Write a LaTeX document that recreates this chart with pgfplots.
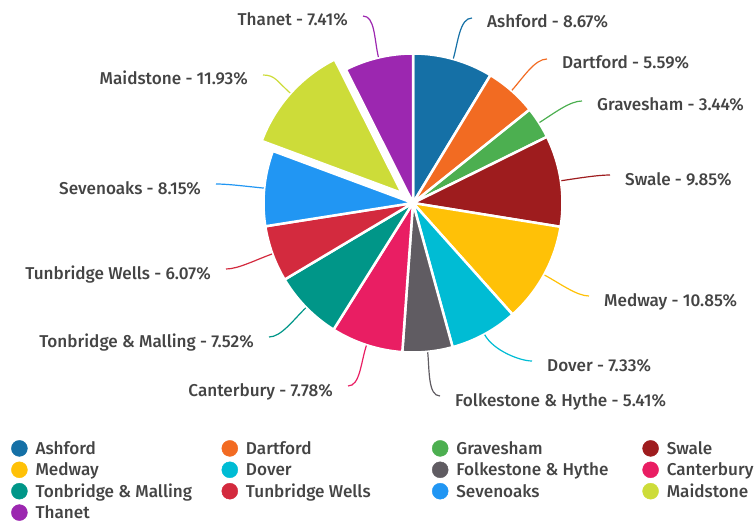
\documentclass[border=0pt]{standalone}
\usepackage{fontspec}
\setmainfont{Fira Sans}[UprightFont={* Medium}]
\usepackage{pgfplots}
\usepackage{pgfplotstable}
\pgfplotsset{compat=1.18}
\definecolor{txt}{HTML}{444444}
\definecolor{cA}{HTML}{1570A6}
\definecolor{cB}{HTML}{F26B22}
\definecolor{cC}{HTML}{4CAF50}
\definecolor{cD}{HTML}{9E1C1E}
\definecolor{cE}{HTML}{FFC107}
\definecolor{cF}{HTML}{00BCD4}
\definecolor{cG}{HTML}{605C62}
\definecolor{cH}{HTML}{E91E63}
\definecolor{cI}{HTML}{009688}
\definecolor{cJ}{HTML}{D32A3E}
\definecolor{cK}{HTML}{2196F3}
\definecolor{cL}{HTML}{CDDC39}
\definecolor{cM}{HTML}{9C27B0}
% name, share (%), colour, explode offset, leader end (x,y from top-left), label side
\pgfplotstableread[col sep=comma]{
name,pct,col,off,lx,ly,side
Ashford,8.67,cA,0,472,18,1
Dartford,5.59,cB,0,547,59,1
Gravesham,3.44,cC,0,582,101,1
Swale,9.85,cD,0,610,175,1
Medway,10.85,cE,0,589,296,1
Dover,7.33,cF,0,532,361,1
Folkestone \& Hythe,5.41,cG,0,440,396,1
Canterbury,7.78,cH,0,348,386,-1
Tonbridge \& Malling,7.52,cI,0,269,337,-1
Tunbridge Wells,6.07,cJ,0,226,269,-1
Sevenoaks,8.15,cK,0,216,184,-1
Maidstone,11.93,cL,15,263,75,-1
Thanet,7.41,cM,0,363,16,-1
}\piedata
\begin{document}
\fontsize{17.2}{20}\selectfont\color{txt}
\begin{tikzpicture}
\begin{axis}[
  x=1bp, y=1bp, xmin=0, xmax=755, ymin=0, ymax=523,
  scale only axis, hide axis, clip=false,
  at={(0,0)}, anchor=south west,
  legend columns=4,
  legend cell align=left,
  legend style={at={(axis cs:11,83)}, anchor=north west, draw=none, fill=none,
    inner sep=0pt, row sep=5bp,
    nodes={inner sep=0pt, text height=12bp, text depth=0pt},
    /tikz/every odd column/.append style={column sep=8bp},
    /tikz/every even column/.append style={column sep=6bp}},
]
\def\cum{0}
\pgfplotsforeachungrouped \i in {0,...,12}{%
  \pgfplotstablegetelem{\i}{name}\of\piedata \edef\nm{\pgfplotsretval}%
  \pgfplotstablegetelem{\i}{pct}\of\piedata \edef\p{\pgfplotsretval}%
  \pgfplotstablegetelem{\i}{col}\of\piedata \edef\c{\pgfplotsretval}%
  \pgfplotstablegetelem{\i}{off}\of\piedata \edef\off{\pgfplotsretval}%
  \pgfplotstablegetelem{\i}{lx}\of\piedata \edef\lx{\pgfplotsretval}%
  \pgfplotstablegetelem{\i}{ly}\of\piedata \edef\ly{\pgfplotsretval}%
  \pgfplotstablegetelem{\i}{side}\of\piedata \edef\sd{\pgfplotsretval}%
  \pgfmathsetmacro\aS{90-3.6*\cum}%
  \pgfmathsetmacro\aE{90-3.6*(\cum+\p)}%
  \pgfmathsetmacro\aM{(\aS+\aE)/2}%
  \pgfmathsetmacro\cum{\cum+\p}%
  \pgfmathsetmacro\cx{413+\off*cos(\aM)}%
  \pgfmathsetmacro\cy{320+\off*sin(\aM)}%
  \pgfmathsetmacro\sx{413+(150+\off)*cos(\aM)}%
  \pgfmathsetmacro\sy{320+(150+\off)*sin(\aM)}%
  \pgfmathsetmacro\ax{413+(168+\off)*cos(\aM)}%
  \pgfmathsetmacro\ay{320+(168+\off)*sin(\aM)}%
  \pgfmathsetmacro\ey{523-\ly}%
  \pgfmathsetmacro\bx{\lx-12*\sd}%
  \pgfmathsetmacro\tx{\lx+15*\sd}%
  \pgfmathsetmacro\ty{523-\ly-10}%
  \ifdim\sd pt>0pt \def\anc{base west}\else\def\anc{base east}\fi
  \edef\next{%
    \noexpand\fill[fill=\c, draw=white, line width=2.5bp, line join=round]
      (axis cs:\cx,\cy) -- ++(\aS:149.5bp) arc[start angle=\aS, end angle=\aE, radius=149.5bp] -- cycle;
    \noexpand\draw[\c, line width=1.2bp]
      (axis cs:\sx,\sy) .. controls (axis cs:\ax,\ay) and (axis cs:\bx,\ey) .. (axis cs:\lx,\ey);
    \noexpand\node[anchor=\anc, inner sep=0pt, text=txt] at (axis cs:\tx,\ty) {\nm{} - \p\noexpand\%};
  }%
  \next
}
\addlegendimage{legend image code/.code={\fill[cA] (0bp,0bp) circle (8bp);}}
\addlegendentry{\makebox[180bp][l]{Ashford}}
\addlegendimage{legend image code/.code={\fill[cB] (0bp,0bp) circle (8bp);}}
\addlegendentry{\makebox[180bp][l]{Dartford}}
\addlegendimage{legend image code/.code={\fill[cC] (0bp,0bp) circle (8bp);}}
\addlegendentry{\makebox[180bp][l]{Gravesham}}
\addlegendimage{legend image code/.code={\fill[cD] (0bp,0bp) circle (8bp);}}
\addlegendentry{Swale}
\addlegendimage{legend image code/.code={\fill[cE] (0bp,0bp) circle (8bp);}}
\addlegendentry{\makebox[180bp][l]{Medway}}
\addlegendimage{legend image code/.code={\fill[cF] (0bp,0bp) circle (8bp);}}
\addlegendentry{\makebox[180bp][l]{Dover}}
\addlegendimage{legend image code/.code={\fill[cG] (0bp,0bp) circle (8bp);}}
\addlegendentry{\makebox[180bp][l]{Folkestone \& Hythe}}
\addlegendimage{legend image code/.code={\fill[cH] (0bp,0bp) circle (8bp);}}
\addlegendentry{Canterbury}
\addlegendimage{legend image code/.code={\fill[cI] (0bp,0bp) circle (8bp);}}
\addlegendentry{\makebox[180bp][l]{Tonbridge \& Malling}}
\addlegendimage{legend image code/.code={\fill[cJ] (0bp,0bp) circle (8bp);}}
\addlegendentry{\makebox[180bp][l]{Tunbridge Wells}}
\addlegendimage{legend image code/.code={\fill[cK] (0bp,0bp) circle (8bp);}}
\addlegendentry{\makebox[180bp][l]{Sevenoaks}}
\addlegendimage{legend image code/.code={\fill[cL] (0bp,0bp) circle (8bp);}}
\addlegendentry{Maidstone}
\addlegendimage{legend image code/.code={\fill[cM] (0bp,0bp) circle (8bp);}}
\addlegendentry{\makebox[180bp][l]{Thanet}}
\end{axis}
\path (0,0) rectangle (755bp,523bp);
\end{tikzpicture}
\end{document}
